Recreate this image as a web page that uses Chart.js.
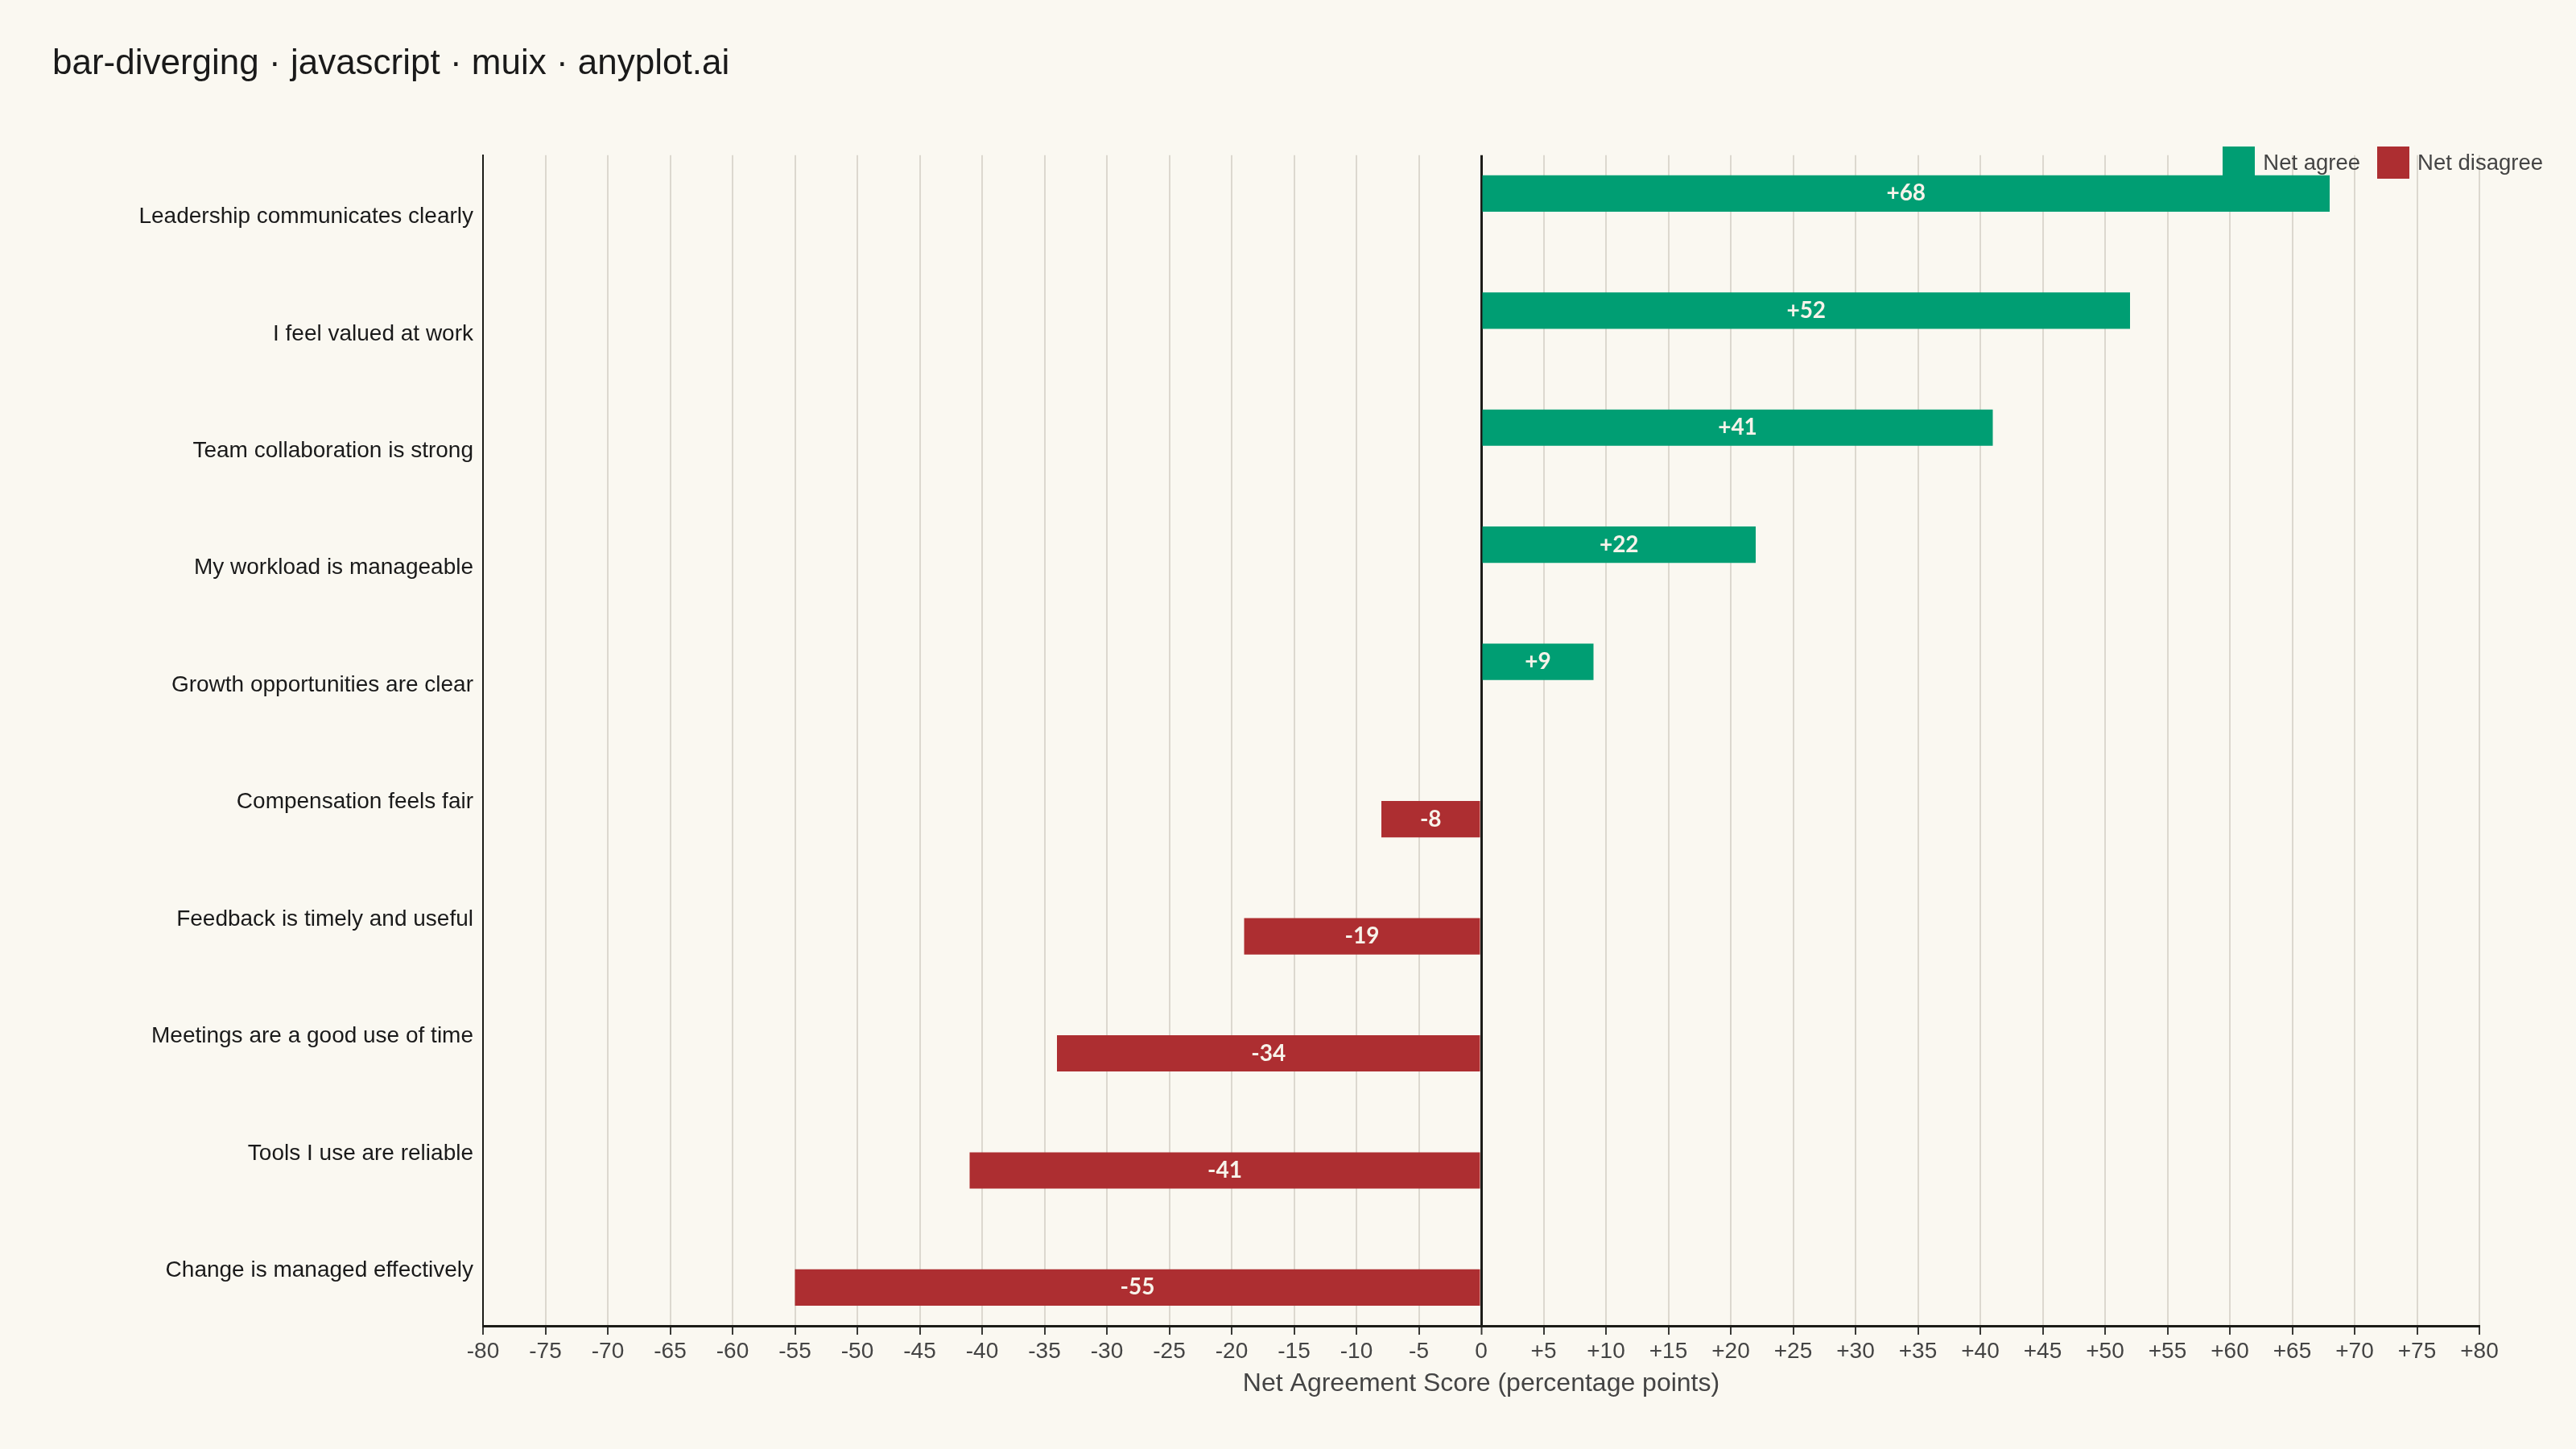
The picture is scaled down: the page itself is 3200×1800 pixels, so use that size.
<!DOCTYPE html>
<html>
<head>
<meta charset="utf-8">
<script src="https://cdn.jsdelivr.net/npm/chart.js@4.4.1/dist/chart.umd.min.js"></script>
<style>
  html, body { margin: 0; padding: 0; background: #FAF8F1; }
  #wrap { position: relative; width: 3200px; height: 1800px; }
  #legend {
    position: absolute; top: 182px; right: 41px;
    display: flex; align-items: center; gap: 21px;
    font-family: "Liberation Sans", Arial, sans-serif; font-size: 27.5px; color: #444;
  }
  #legend .item { display: flex; align-items: center; gap: 10px; line-height: 40px; }
  #legend .box { width: 40px; height: 40px; }
</style>
</head>
<body>
<div id="wrap">
  <canvas id="chart"></canvas>
  <div id="legend"></div>
</div>
<script>
// data
const categories = [
  "Leadership communicates clearly",
  "I feel valued at work",
  "Team collaboration is strong",
  "My workload is manageable",
  "Growth opportunities are clear",
  "Compensation feels fair",
  "Feedback is timely and useful",
  "Meetings are a good use of time",
  "Tools I use are reliable",
  "Change is managed effectively"
];
const netAgree = [68, 52, 41, 22, 9, null, null, null, null, null];
const netDisagree = [null, null, null, null, null, -8, -19, -34, -41, -55];
const seriesNames = ["Net agree", "Net disagree"];
const seriesColors = ["#009E73", "#AD2E31"];

const FONT = '"Liberation Sans", Arial, sans-serif';
const DARK = "#1c1c18";

// white value label centred in each bar
const barLabels = {
  id: "barLabels",
  afterDatasetsDraw(chart) {
    const ctx = chart.ctx;
    ctx.save();
    ctx.font = 'bold 28px Lato, "Liberation Sans", sans-serif';
    ctx.fillStyle = "#F7F3EA";
    ctx.textAlign = "center";
    ctx.textBaseline = "middle";
    chart.data.datasets.forEach((ds, i) => {
      chart.getDatasetMeta(i).data.forEach((bar, j) => {
        const v = ds.data[j];
        if (v === null) return;
        const p = bar.getProps(["x", "y", "base"], true);
        ctx.fillText(v > 0 ? "+" + v : String(v), (p.x + p.base) / 2, p.y);
      });
    });
    ctx.restore();
  }
};

new Chart(document.getElementById("chart").getContext("2d"), {
  type: "bar",
  data: {
    labels: categories,
    datasets: [
      { label: seriesNames[0], data: netAgree, backgroundColor: seriesColors[0] },
      { label: seriesNames[1], data: netDisagree, backgroundColor: seriesColors[1] }
    ]
  },
  options: {
    indexAxis: "y",
    responsive: true,
    maintainAspectRatio: false,
    devicePixelRatio: 1,
    animation: false,
    categoryPercentage: 0.69,
    barPercentage: 0.9,
    layout: { padding: { left: 65, right: 120, top: 0, bottom: 62 } },
    plugins: {
      legend: { display: false },
      tooltip: { enabled: false },
      title: {
        display: true,
        text: "bar-diverging · javascript · muix · anyplot.ai",
        align: "start",
        color: "#1a1a1a",
        font: { family: FONT, size: 44, weight: "normal" },
        padding: { top: 53, bottom: 87 }
      }
    },
    scales: {
      x: {
        min: -80,
        max: 80,
        ticks: {
          stepSize: 5,
          autoSkip: false,
          maxRotation: 0,
          padding: 4,
          color: "#444",
          font: { family: FONT, size: 28 },
          callback: v => (v > 0 ? "+" + v : String(v))
        },
        grid: {
          color: c => (c.tick && c.tick.value === 0 ? DARK : "#DCD8CF"),
          lineWidth: c => (c.tick && c.tick.value === 0 ? 3 : 2),
          tickColor: "#3a3a36",
          tickLength: 11,
          tickWidth: 2
        },
        border: { color: DARK, width: 3 },
        title: {
          display: true,
          text: "Net Agreement Score (percentage points)",
          color: "#444",
          font: { family: FONT, size: 32 },
          padding: { top: 0, bottom: 0 }
        }
      },
      y: {
        ticks: {
          color: "#1a1a1a",
          padding: 12,
          labelOffset: 4,
          font: { family: FONT, size: 28 }
        },
        grid: { drawOnChartArea: false, drawTicks: false },
        border: { color: DARK, width: 2 },
        afterFit(scale) { scale.width = 535; }
      }
    }
  },
  plugins: [barLabels]
});

// legend sits over the top-right corner of the plot
const legend = document.getElementById("legend");
seriesNames.forEach((name, i) => {
  const item = document.createElement("div");
  item.className = "item";
  item.innerHTML = '<span class="box" style="background:' + seriesColors[i] + '"></span><span>' + name + "</span>";
  legend.appendChild(item);
});
</script>
</body>
</html>
